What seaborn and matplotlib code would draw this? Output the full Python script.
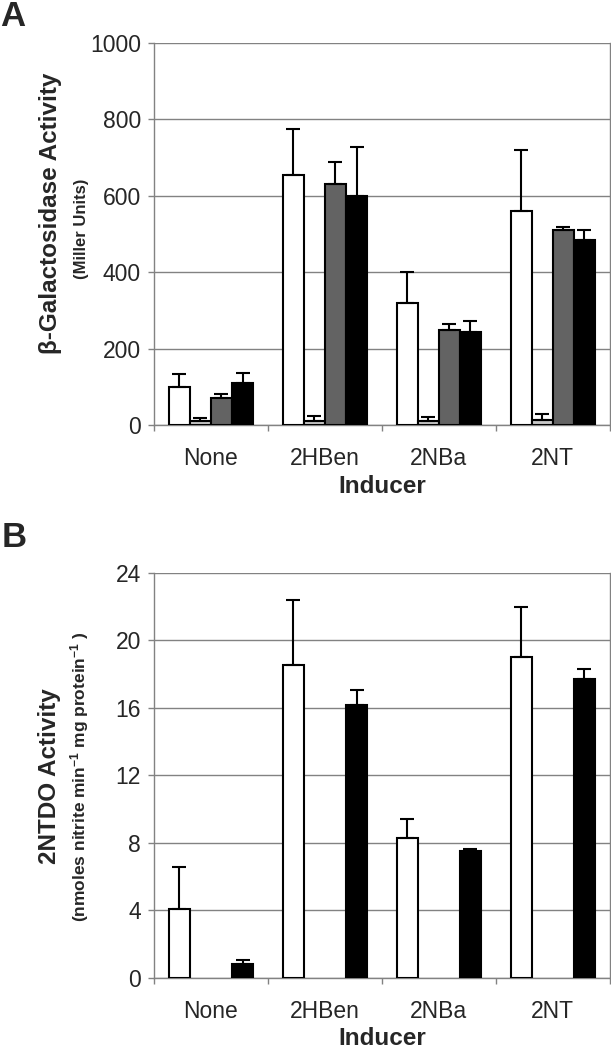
import numpy as np
import pandas as pd
import matplotlib
matplotlib.use("Agg")
import matplotlib.pyplot as plt
import seaborn as sns

# Data
inducers = ["None", "2HBen", "2NBa", "2NT"]
strains = ["s1", "s2", "s3", "s4"]
colors = ["#ffffff", "#c8c8c8", "#636363", "#000000"]

# Panel A: beta-galactosidase activity (Miller units)
gal_s1 = [100, 655, 321, 560]
gal_s2 = [11, 10, 10, 15]
gal_s3 = [71, 632, 248, 511]
gal_s4 = [110, 601, 245, 484]
gal_err_s1 = [33, 121, 81, 159]
gal_err_s2 = [9, 13, 12, 15]
gal_err_s3 = [10, 56, 18, 7]
gal_err_s4 = [27, 127, 29, 26]

# Panel B: 2NTDO activity (only white and black series measured)
ntdo_s1 = [4.1, 18.55, 8.3, 19.0]
ntdo_s4 = [0.8, 16.2, 7.5, 17.7]
ntdo_err_s1 = [2.5, 3.85, 1.1, 3.0]
ntdo_err_s4 = [0.25, 0.85, 0.15, 0.6]

nan4 = [np.nan] * 4

sns.set_theme(style="white")
plt.rcParams['font.family'] = ['Liberation Sans', 'DejaVu Sans']
plt.rcParams['mathtext.default'] = 'regular'


def long_table(vals, errs):
    rows = []
    for s, v, e in zip(strains, vals, errs):
        for i, ind in enumerate(inducers):
            rows.append({"Inducer": ind, "strain": s, "value": v[i], "err": e[i]})
    return pd.DataFrame(rows)


def draw_panel(ax, df, ymax, step):
    data = df.dropna(subset=["value"])
    sns.barplot(data=data, x="Inducer", y="value", hue="strain",
                hue_order=strains, order=inducers, palette=colors,
                edgecolor="black", linewidth=1.5, width=0.74, gap=0,
                errorbar=None, legend=False, ax=ax, zorder=3)
    # upper-only error bars, one per bar, centred on the seaborn patches
    for s, cont in zip(strains, ax.containers):
        sub = data[data.strain == s].set_index("Inducer")
        labs = [ind for ind in inducers if ind in sub.index]
        xs = [p.get_x() + p.get_width() / 2 for p in cont.patches]
        ys = sub.loc[labs, "value"].values
        es = sub.loc[labs, "err"].values
        ax.errorbar(xs, ys, yerr=[np.zeros(len(es)), es], fmt="none",
                    ecolor="black", elinewidth=1.5, capsize=4.8,
                    capthick=1.5, zorder=4)
    ax.set_ylim(0, ymax)
    ax.set_xlim(-0.5, 3.5)
    ax.set_yticks(np.arange(0, ymax + 1, step))
    ax.yaxis.grid(True, color="#828282", linewidth=1.0, zorder=0)
    ax.set_axisbelow(True)
    for side in ["left", "bottom", "right"]:
        ax.spines[side].set_visible(True)
        ax.spines[side].set_color("#828282")
        ax.spines[side].set_linewidth(1.0)
    ax.spines["top"].set_visible(False)
    ax.tick_params(axis="y", which="major", length=4.5, width=1.0,
                   color="#828282", direction="out", left=True,
                   labelsize=16.5, pad=5)
    ax.set_xticks([-0.5, 0.5, 1.5, 2.5, 3.5], minor=True)
    ax.tick_params(axis="x", which="minor", length=4.5, width=1.0,
                   color="#828282", direction="out", bottom=True)
    ax.tick_params(axis="x", which="major", length=0, labelsize=16.5, pad=16)
    ax.set_xlabel("Inducer", fontsize=17.5, fontweight="bold", labelpad=3)
    ax.set_ylabel("")


fig = plt.figure(figsize=(6.11, 10.5), dpi=100)
axA = fig.add_axes([0.252, 0.595, 0.746, 0.364])
axB = fig.add_axes([0.252, 0.0686, 0.746, 0.3857])

dfA = long_table([gal_s1, gal_s2, gal_s3, gal_s4],
                 [gal_err_s1, gal_err_s2, gal_err_s3, gal_err_s4])
dfB = long_table([ntdo_s1, nan4, nan4, ntdo_s4],
                 [ntdo_err_s1, nan4, nan4, ntdo_err_s4])

draw_panel(axA, dfA, 1000, 200)
draw_panel(axB, dfB, 24, 4)

axA.text(-0.226, 0.555, "β-Galactosidase Activity", transform=axA.transAxes,
         rotation=90, ha="center", va="center", fontsize=17.5, fontweight="bold")
axA.text(-0.158, 0.513, "(Miller Units)", transform=axA.transAxes,
         rotation=90, ha="center", va="center", fontsize=12, fontweight="bold")
axB.text(-0.230, 0.499, "2NTDO Activity", transform=axB.transAxes,
         rotation=90, ha="center", va="center", fontsize=17.5, fontweight="bold")
axB.text(-0.164, 0.496, r"(nmoles nitrite min$^{-1}$ mg protein$^{-1}$ )",
         transform=axB.transAxes, rotation=90, ha="center", va="center",
         fontsize=12.5, fontweight="bold")

fig.text(0.0, 1.0, "A", ha="left", va="top", fontsize=25, fontweight="bold")
fig.text(0.003, 1 - 521 / 1050, "B", ha="left", va="top", fontsize=25,
         fontweight="bold")

fig.savefig("out.png", dpi=100)
